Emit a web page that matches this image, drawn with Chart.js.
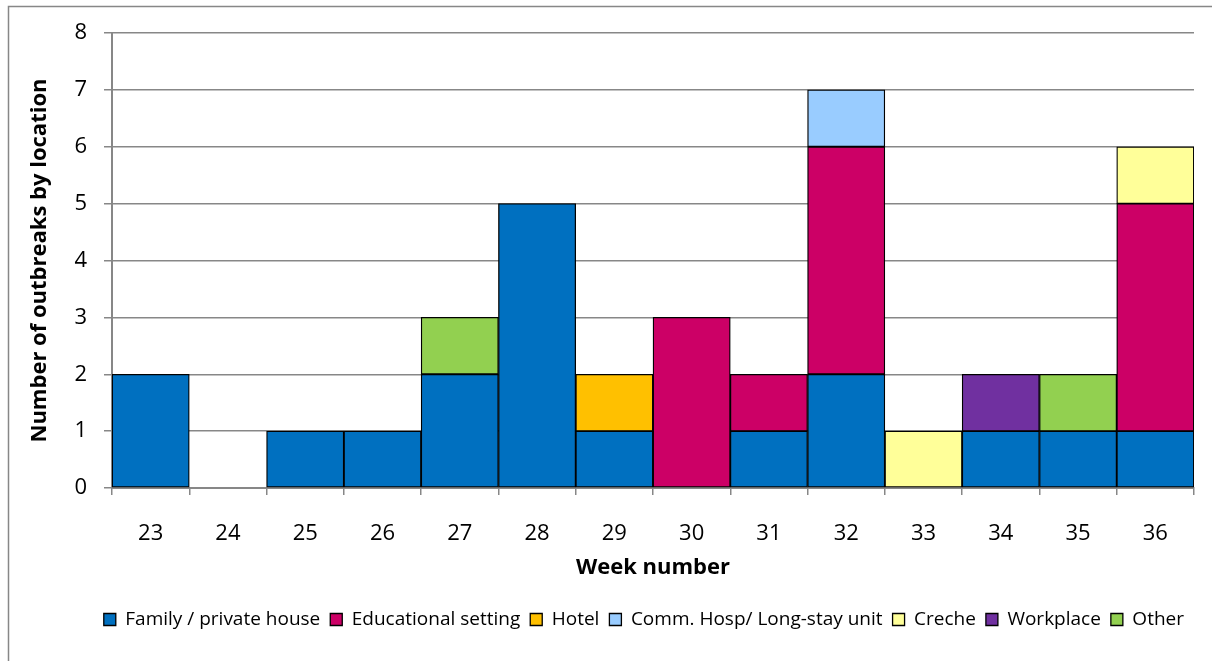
<!DOCTYPE html>
<html>
<head>
<meta charset="utf-8">
<script src="https://cdn.jsdelivr.net/npm/chart.js@4.4.1/dist/chart.umd.min.js"></script>
<style>
  html, body { margin: 0; padding: 0; background: #fff; }
  #wrap { position: relative; width: 1212px; height: 661px; }
</style>
</head>
<body>
<div id="wrap"><canvas id="c" width="1212" height="661"></canvas></div>
<script>
// Outbreaks per week, stacked by location
const weeks = ['23', '24', '25', '26', '27', '28', '29', '30', '31', '32', '33', '34', '35', '36'];
const family      = [2, 0, 1, 1, 2, 5, 1, 0, 1, 2, 0, 1, 1, 1];
const educational = [0, 0, 0, 0, 0, 0, 0, 3, 1, 4, 0, 0, 0, 4];
const hotel       = [0, 0, 0, 0, 0, 0, 1, 0, 0, 0, 0, 0, 0, 0];
const commHosp    = [0, 0, 0, 0, 0, 0, 0, 0, 0, 1, 0, 0, 0, 0];
const creche      = [0, 0, 0, 0, 0, 0, 0, 0, 0, 0, 1, 0, 0, 1];
const workplace   = [0, 0, 0, 0, 0, 0, 0, 0, 0, 0, 0, 1, 0, 0];
const other       = [0, 0, 0, 0, 1, 0, 0, 0, 0, 0, 0, 0, 1, 0];
const yTicks = [0, 1, 2, 3, 4, 5, 6, 7, 8];

const FONT = '"Open Sans", Lato, sans-serif';
const GRID = '#878787';

function series(label, data, color) {
  return {
    label, data,
    backgroundColor: color,
    borderColor: '#000',
    borderWidth: 1.3,
    borderSkipped: false,
    categoryPercentage: 1.0,
    barPercentage: 1.0
  };
}

// Outer frame of the chart object
const framePlugin = {
  id: 'frame',
  beforeDraw(chart) {
    const ctx = chart.ctx;
    ctx.save();
    ctx.strokeStyle = GRID;
    ctx.lineWidth = 1.5;
    ctx.beginPath();
    ctx.moveTo(8.5, 661);
    ctx.lineTo(8.5, 6.5);
    ctx.lineTo(1212, 6.5);
    ctx.stroke();
    ctx.restore();
  }
};

new Chart(document.getElementById('c'), {
  type: 'bar',
  data: {
    labels: weeks,
    datasets: [
      series('Family / private house', family, '#0070C0'),
      series('Educational setting', educational, '#CC0066'),
      series('Hotel', hotel, '#FFC000'),
      series('Comm. Hosp/ Long-stay unit', commHosp, '#99CCFF'),
      series('Creche', creche, '#FFFF99'),
      series('Workplace', workplace, '#7030A0'),
      series('Other', other, '#92D050')
    ]
  },
  options: {
    responsive: false,
    animation: false,
    layout: { padding: { left: 0, right: 18, top: 33, bottom: 22 } },
    plugins: {
      tooltip: { enabled: false },
      legend: {
        position: 'bottom',
        align: 'end',
        labels: {
          boxWidth: 12, boxHeight: 12, padding: 10,
          color: '#000',
          font: { family: FONT, size: 19 }
        }
      }
    },
    scales: {
      x: {
        stacked: true,
        offset: true,
        grid: { offset: true, drawOnChartArea: false, drawTicks: true, tickLength: 7, color: GRID, lineWidth: 1.5 },
        border: { color: GRID, width: 2 },
        ticks: { color: '#000', padding: 26, font: { family: FONT, size: 22 } },
        title: { display: true, text: 'Week number', color: '#000', padding: { top: 0, bottom: 19 },
                 font: { family: FONT, size: 22, weight: 'bold' } },
        afterFit(scale) { scale.height = 112; }
      },
      y: {
        stacked: true,
        min: 0, max: 8,
        afterBuildTicks(scale) { scale.ticks = yTicks.map(v => ({ value: v })); },
        grid: { color: GRID, lineWidth: 1.5, tickLength: 8 },
        border: { color: GRID, width: 2 },
        ticks: { color: '#000', padding: 17, font: { family: FONT, size: 22 } },
        title: { display: true, text: 'Number of outbreaks by location', color: '#000',
                 padding: { top: 27, bottom: 0 },
                 font: { family: FONT, size: 22, weight: 'bold' } },
        afterFit(scale) { scale.width = 112; }
      }
    }
  },
  plugins: [framePlugin]
});
</script>
</body>
</html>
